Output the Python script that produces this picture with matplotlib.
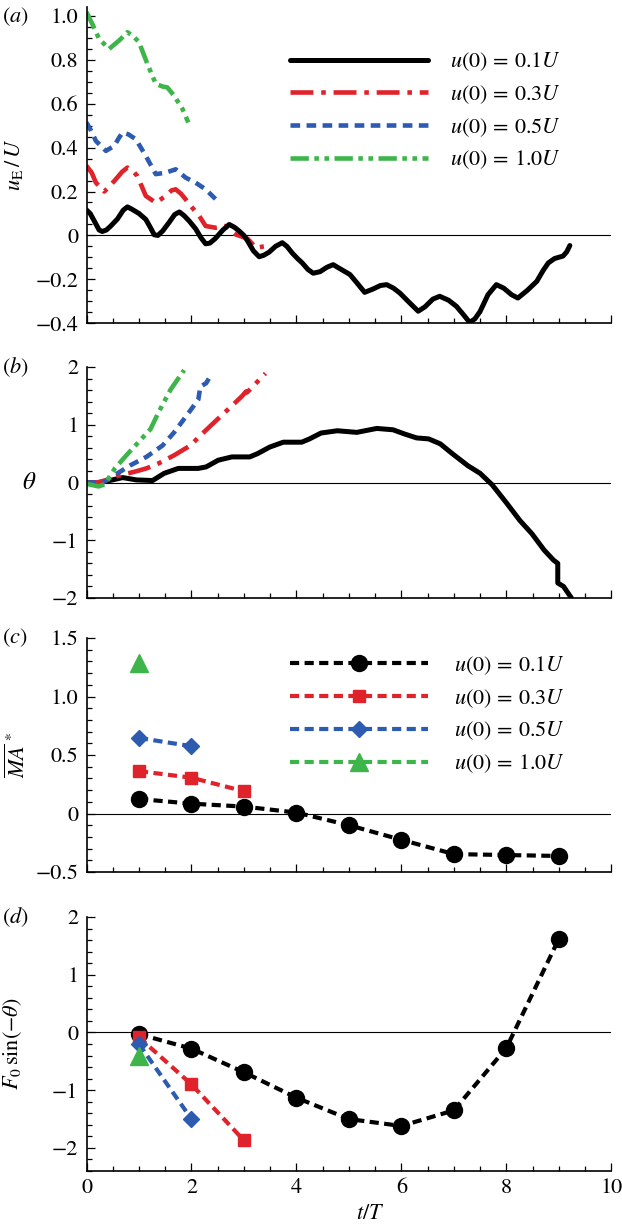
import matplotlib
matplotlib.use("Agg")
import matplotlib.pyplot as plt
from matplotlib.ticker import MultipleLocator, FuncFormatter

plt.rcParams['font.family'] = ['STIXGeneral', 'DejaVu Serif']
plt.rcParams['mathtext.fontset'] = 'stix'

# ---------------- data ----------------
labels = [r'$u(0)\, =\, 0.1U$', r'$u(0)\, =\, 0.3U$', r'$u(0)\, =\, 0.5U$', r'$u(0)\, =\, 1.0U$']
colors = ['#000000', '#e0222b', '#2d5bb0', '#3db54a']

# (a) u_E / U vs t/T
a_t01 = [0, 0.07, 0.15, 0.24, 0.30, 0.38, 0.45, 0.59, 0.70, 0.78, 0.86, 1.0, 1.13, 1.22, 1.29, 1.36,
         1.45, 1.57, 1.68, 1.77, 1.86, 1.96, 2.08, 2.18, 2.27, 2.35, 2.45, 2.60, 2.72, 2.82, 2.91,
         3.0, 3.07, 3.18, 3.29, 3.38, 3.48, 3.60, 3.73, 3.82, 3.92, 4.02, 4.11, 4.22, 4.32, 4.45,
         4.58, 4.70, 4.82, 5.02, 5.15, 5.30, 5.45, 5.60, 5.72, 5.85, 5.97, 6.15, 6.32, 6.45, 6.60,
         6.73, 6.90, 7.05, 7.18, 7.30, 7.40, 7.50, 7.65, 7.81, 7.95, 8.10, 8.22, 8.40, 8.58, 8.70,
         8.80, 8.92, 9.08, 9.15, 9.21]
a_u01 = [0.116, 0.10, 0.065, 0.025, 0.018, 0.025, 0.04, 0.075, 0.115, 0.13, 0.12, 0.10, 0.073, 0.035,
         0.003, 0.0, 0.02, 0.058, 0.095, 0.107, 0.09, 0.065, 0.03, -0.01, -0.038, -0.035, -0.015,
         0.025, 0.05, 0.037, 0.02, 0.0, -0.025, -0.07, -0.097, -0.09, -0.076, -0.05, -0.033, -0.05,
         -0.08, -0.105, -0.125, -0.155, -0.172, -0.165, -0.145, -0.133, -0.15, -0.178, -0.215,
         -0.259, -0.245, -0.228, -0.224, -0.24, -0.262, -0.305, -0.345, -0.325, -0.29, -0.277,
         -0.295, -0.323, -0.36, -0.396, -0.38, -0.346, -0.27, -0.224, -0.24, -0.27, -0.285, -0.25,
         -0.209, -0.16, -0.125, -0.105, -0.094, -0.075, -0.046]
a_t03 = [0, 0.10, 0.18, 0.34, 0.53, 0.68, 0.78, 0.88, 0.97, 1.05, 1.13, 1.32, 1.51, 1.62, 1.70, 1.80,
         1.89, 2.02, 2.15, 2.27, 2.46, 2.65, 2.84, 3.07, 3.23, 3.38]
a_u03 = [0.317, 0.285, 0.24, 0.20, 0.248, 0.29, 0.309, 0.295, 0.27, 0.225, 0.18, 0.149, 0.18, 0.205,
         0.21, 0.19, 0.164, 0.125, 0.088, 0.043, 0.035, 0.043, 0.005, -0.015, -0.056, -0.05]
a_t05 = [0, 0.08, 0.18, 0.37, 0.53, 0.62, 0.69, 0.80, 0.94, 1.13, 1.32, 1.51, 1.70, 1.89, 2.08, 2.27, 2.53]
a_u05 = [0.514, 0.48, 0.43, 0.385, 0.408, 0.445, 0.469, 0.46, 0.438, 0.362, 0.279, 0.286, 0.301,
         0.263, 0.24, 0.21, 0.149]
a_t10 = [0, 0.11, 0.24, 0.43, 0.62, 0.78, 0.88, 1.0, 1.16, 1.32, 1.45, 1.54, 1.67, 1.83, 1.94]
a_u10 = [1.017, 0.963, 0.895, 0.849, 0.887, 0.925, 0.91, 0.88, 0.781, 0.69, 0.678, 0.674, 0.636,
         0.575, 0.514]

# (b) theta vs t/T
b_t01 = [0, 0.2, 0.42, 0.69, 0.95, 1.26, 1.48, 1.75, 2.13, 2.28, 2.51, 2.77, 3.11, 3.26, 3.49, 3.75,
         4.10, 4.25, 4.47, 4.78, 5.15, 5.53, 5.84, 6.06, 6.29, 6.52, 6.74, 6.97, 7.27, 7.50, 7.73,
         8.0, 8.26, 8.49, 8.72, 8.90, 8.98, 8.98, 9.09, 9.24]
b_th01 = [0, -0.01, 0.03, 0.085, 0.045, 0.034, 0.159, 0.244, 0.244, 0.27, 0.386, 0.443, 0.443, 0.5,
          0.613, 0.698, 0.698, 0.755, 0.857, 0.896, 0.868, 0.936, 0.913, 0.84, 0.772, 0.755, 0.67,
          0.5, 0.289, 0.159, -0.04, -0.35, -0.66, -0.89, -1.17, -1.345, -1.40, -1.74, -1.80, -2.0]
b_t03 = [0, 0.2, 0.39, 0.61, 0.92, 1.14, 1.37, 1.67, 1.98, 2.20, 2.43, 2.73, 2.96, 3.04, 3.06, 3.26, 3.41]
b_th03 = [0, 0.0, 0.045, 0.119, 0.187, 0.244, 0.329, 0.471, 0.641, 0.84, 1.038, 1.294, 1.492, 1.577,
          1.56, 1.748, 1.889]
b_t05 = [0, 0.31, 0.54, 0.84, 1.14, 1.45, 1.67, 1.90, 2.13, 2.17, 2.28, 2.39]
b_th05 = [0, 0.0, 0.13, 0.30, 0.443, 0.641, 0.868, 1.15, 1.435, 1.66, 1.72, 1.889]
b_t10 = [0, 0.23, 0.35, 0.54, 0.76, 0.99, 1.22, 1.37, 1.60, 1.86]
b_th10 = [-0.023, -0.068, -0.03, 0.244, 0.471, 0.698, 0.925, 1.21, 1.606, 1.946]

# (c) mean MA* at integer periods
c_t01 = [1, 2, 3, 4, 5, 6, 7, 8, 9]
c_v01 = [0.124, 0.084, 0.059, 0.008, -0.10, -0.225, -0.347, -0.355, -0.363]
c_t03 = [1, 2, 3]
c_v03 = [0.362, 0.306, 0.19]
c_t05 = [1, 2]
c_v05 = [0.646, 0.575]
c_t10 = [1]
c_v10 = [1.284]

# (d) F0 sin(-theta)
d_t01 = [1, 2, 3, 4, 5, 6, 7, 8, 9]
d_v01 = [-0.03, -0.28, -0.69, -1.13, -1.50, -1.62, -1.35, -0.27, 1.62]
d_t03 = [1, 2, 3]
d_v03 = [-0.085, -0.90, -1.87]
d_t05 = [1, 2]
d_v05 = [-0.20, -1.50]
d_t10 = [1]
d_v10 = [-0.40]

# ---------------- styles ----------------
line_styles = ['-', (0, (5, 1.7, 1, 1.7)), (0, (2.1, 1.4)), (0, (4, 1.2, 1, 1.2, 1, 1.2))]
line_widths = [3.6, 3.3, 3.3, 3.3]
markers = ['o', 's', 'D', '^']
msizes = [11.5, 8.5, 8.5, 13]
FS = 16

W, H = 622, 1227
fig = plt.figure(figsize=(W / 100, H / 100), dpi=100)

def box(top, bottom):
    l = 86.5 / W
    w = (611.3 - 86.5) / W
    return [l, 1 - bottom / H, w, (bottom - top) / H]

ax_a = fig.add_axes(box(7, 323.3))
ax_b = fig.add_axes(box(367, 598))
ax_c = fig.add_axes(box(638, 872))
ax_d = fig.add_axes(box(917, 1171))

def fmt(dec):
    def f(v, pos):
        if abs(v) < 1e-9:
            return '0'
        s = f'{abs(v):.{dec}f}'
        return ('\u2212' + s) if v < 0 else s
    return FuncFormatter(f)

def style(ax, ylim, major, minor, dec, xlabels=False):
    ax.set_xlim(0, 10)
    ax.set_ylim(*ylim)
    ax.xaxis.set_major_locator(MultipleLocator(2))
    ax.xaxis.set_minor_locator(MultipleLocator(0.5))
    ax.yaxis.set_major_locator(MultipleLocator(major))
    ax.yaxis.set_minor_locator(MultipleLocator(minor))
    ax.yaxis.set_major_formatter(fmt(dec))
    ax.xaxis.set_major_formatter(fmt(0))
    for s in ['top', 'right']:
        ax.spines[s].set_visible(False)
    for s in ['left', 'bottom']:
        ax.spines[s].set_linewidth(1.2)
    ax.tick_params(which='major', direction='in', length=5.8, width=0.9, labelsize=FS)
    ax.tick_params(which='minor', direction='in', length=3.6, width=0.9)
    ax.tick_params(axis='y', which='major', pad=6)
    ax.tick_params(axis='x', which='major', pad=5, labelbottom=xlabels)
    ax.axhline(0, color='black', lw=0.8, zorder=1)

join = dict(solid_joinstyle='round', solid_capstyle='round', dash_joinstyle='round')

# (a)
a_t = [a_t01, a_t03, a_t05, a_t10]
a_u = [a_u01, a_u03, a_u05, a_u10]
for i in range(4):
    ax_a.plot(a_t[i], a_u[i], color=colors[i], ls=line_styles[i], lw=line_widths[i],
              label=labels[i], zorder=3 if i == 0 else 2, **join)
style(ax_a, (-0.4, 1.04), 0.2, 0.05, 1)
ax_a.set_ylabel(r'$u_{\mathrm{E}}\,/\,U$', fontsize=FS)
ax_a.yaxis.set_label_coords(-0.117, 0.5)
ax_a.legend(loc='upper left', bbox_to_anchor=((290 - 86.5) / 524.8, 0.862), frameon=False,
            fontsize=FS, handlelength=6.2, handletextpad=1.0, labelspacing=0.45,
            borderpad=0, borderaxespad=0)

# (b)
b_t = [b_t01, b_t03, b_t05, b_t10]
b_th = [b_th01, b_th03, b_th05, b_th10]
for i in range(4):
    ax_b.plot(b_t[i], b_th[i], color=colors[i], ls=line_styles[i], lw=line_widths[i], zorder=2, **join)
style(ax_b, (-2, 2), 1, 0.2, 0)
ax_b.set_ylabel(r'$\theta$', fontsize=FS + 2, rotation=0, va='center', ha='center')
ax_b.yaxis.set_label_coords(-0.11, 0.5)

# (c)
c_t = [c_t01, c_t03, c_t05, c_t10]
c_v = [c_v01, c_v03, c_v05, c_v10]
for i in range(4):
    ax_c.plot(c_t[i], c_v[i], color=colors[i], ls=(0, (2.2, 1.3)), lw=3.0, marker=markers[i],
              ms=msizes[i], label=labels[i], zorder=3)
style(ax_c, (-0.5, 1.5), 0.5, 0.1, 1)
ax_c.set_ylabel(r'$\overline{MA}^{\,*}$', fontsize=FS)
ax_c.yaxis.set_label_coords(-0.108, 0.5)
ax_c.legend(loc='upper left', bbox_to_anchor=((290 - 86.5) / 524.8, 0.93), frameon=False,
            fontsize=FS, handlelength=6.2, handletextpad=1.2, labelspacing=0.45,
            borderpad=0, borderaxespad=0, numpoints=1)

# (d)
d_t = [d_t01, d_t03, d_t05, d_t10]
d_v = [d_v01, d_v03, d_v05, d_v10]
for i in range(4):
    ax_d.plot(d_t[i], d_v[i], color=colors[i], ls=(0, (2.2, 1.3)), lw=3.0, marker=markers[i],
              ms=msizes[i], zorder=3)
style(ax_d, (-2.4, 2), 1, 0.2, 0, xlabels=True)
ax_d.set_ylabel(r'$F_0\,\sin(-\theta)$', fontsize=FS)
ax_d.yaxis.set_label_coords(-0.12, 0.5)
ax_d.set_xlabel(r'$t/T$', fontsize=FS)
ax_d.xaxis.set_label_coords(0.54, -0.132)

# panel letters
for letter, y in [('a', 17), ('b', 367), ('c', 638), ('d', 917)]:
    fig.text(2 / W, 1 - y / H, '($' + letter + '$)', fontsize=FS, ha='left', va='center')

fig.savefig('out.png', dpi=100)
